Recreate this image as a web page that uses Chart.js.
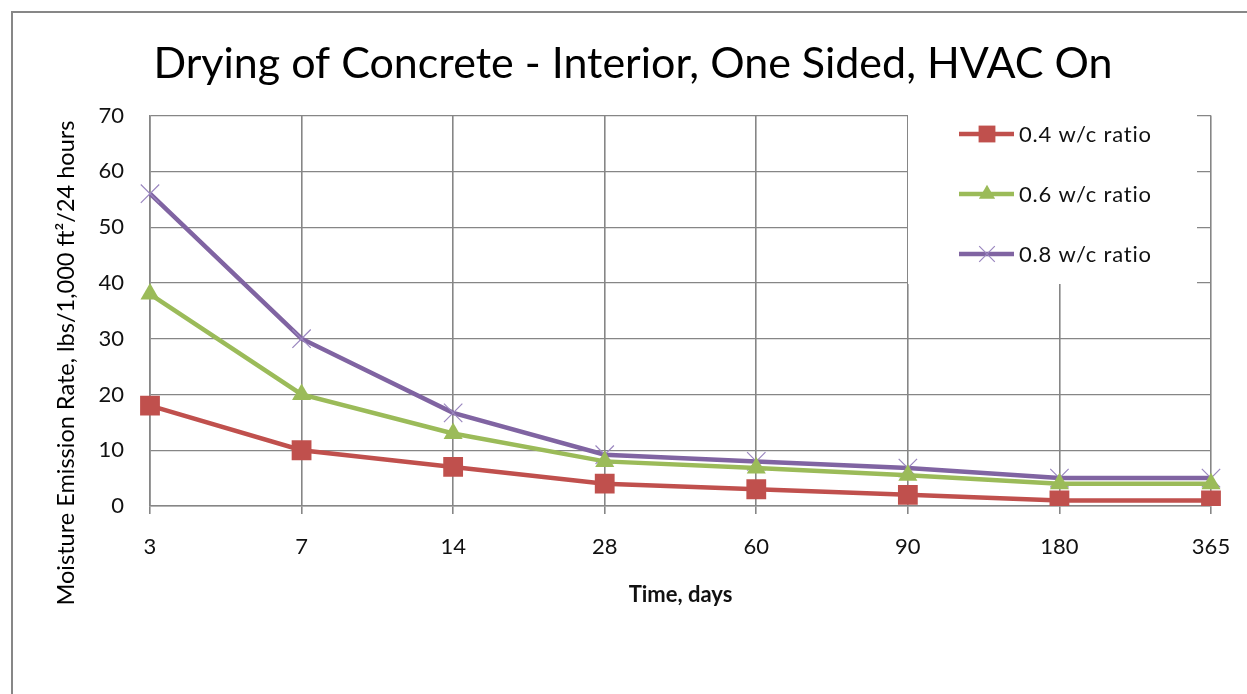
<!DOCTYPE html>
<html>
<head>
<meta charset="utf-8">
<script src="https://cdn.jsdelivr.net/npm/chart.js@4"></script>
<style>
  html, body { margin: 0; padding: 0; background: #fff; overflow: hidden; }
  #wrap { position: absolute; left: 0; top: 0; width: 1254px; height: 694px; }
</style>
</head>
<body>
<div id="wrap"><canvas id="dryChart"></canvas></div>
<script>
// time, days (category axis)
const days = ['3', '7', '14', '28', '60', '90', '180', '365'];

// moisture emission rate, lbs/1,000 ft2/24 hours
const wc04 = [18, 10, 7, 4, 3, 2, 1, 1];
const wc06 = [38, 20, 13, 8, 6.8, 5.5, 4, 4];
const wc08 = [56, 30, 16.7, 9.2, 8, 6.8, 5, 5];

const seriesNames = ['0.4 w/c ratio', '0.6 w/c ratio', '0.8 w/c ratio'];
const yTicks = [0, 10, 20, 30, 40, 50, 60, 70];

const FONT = 'Lato, "Open Sans", sans-serif';
const GRID = '#868686';

// outer frame of the chart object (runs off the right/bottom of the picture)
const framePlugin = {
    id: 'frame',
    beforeDraw(chart) {
        const c = chart.ctx;
        c.save();
        c.fillStyle = '#fff';
        c.fillRect(0, 0, chart.width, chart.height);
        c.strokeStyle = '#878787';
        c.lineWidth = 2;
        c.beginPath();
        c.moveTo(12, chart.height + 5);
        c.lineTo(12, 12);
        c.lineTo(chart.width + 5, 12);
        c.stroke();
        c.restore();
    }
};

// y axis title sits lower than the plot centre in the original
const yTitlePlugin = {
    id: 'yTitle',
    afterDraw(chart) {
        const c = chart.ctx;
        c.save();
        c.translate(66, 363);
        c.rotate(-Math.PI / 2);
        c.fillStyle = '#000';
        c.textAlign = 'center';
        c.textBaseline = 'middle';
        c.font = '23.5px ' + FONT;
        c.fillText('Moisture Emission Rate, lbs/1,000 ft\u00B2/24 hours', 0, 0);
        c.restore();
    }
};

// legend box drawn over the grid, top right of plot
const legendPlugin = {
    id: 'boxLegend',
    beforeDatasetsDraw(chart) {
        const c = chart.ctx;
        const area = chart.chartArea;
        c.save();
        c.fillStyle = '#fff';
        c.fillRect(908, area.top - 1, 289, 285 - area.top);
        chart.data.datasets.forEach((ds, i) => {
            const y = 134 + i * 60;
            c.strokeStyle = ds.borderColor;
            c.lineWidth = ds.borderWidth;
            c.beginPath();
            c.moveTo(959, y);
            c.lineTo(1014, y);
            c.stroke();
            c.fillStyle = ds.pointBackgroundColor;
            c.strokeStyle = ds.pointBorderColor;
            c.lineWidth = ds.pointBorderWidth;
            Chart.helpers.drawPoint(c, {
                pointStyle: ds.pointStyle,
                radius: ds.pointRadius * 0.85,
                borderWidth: ds.pointBorderWidth,
                rotation: 0
            }, 987, y);
            c.fillStyle = '#111';
            c.font = '22px ' + FONT;
            c.letterSpacing = '0.8px';
            c.textAlign = 'left';
            c.textBaseline = 'middle';
            c.fillText(ds.label, 1019, y + 1);
            c.letterSpacing = '0px';
        });
        c.restore();
    }
};

const ctx = document.getElementById('dryChart').getContext('2d');

const dryChart = new Chart(ctx, {
    type: 'line',
    data: {
        labels: days,
        datasets: [{
            label: seriesNames[0],
            data: wc04,
            borderColor: '#C0504D',
            borderWidth: 4.5,
            pointStyle: 'rect',
            pointRadius: 14,
            pointBackgroundColor: '#C0504D',
            pointBorderColor: '#C0504D',
            pointBorderWidth: 0
        }, {
            label: seriesNames[1],
            data: wc06,
            borderColor: '#9BBB59',
            borderWidth: 4.5,
            pointStyle: 'triangle',
            pointRadius: 11,
            pointBackgroundColor: '#9BBB59',
            pointBorderColor: '#9BBB59',
            pointBorderWidth: 0
        }, {
            label: seriesNames[2],
            data: wc08,
            borderColor: '#8064A2',
            borderWidth: 4.5,
            pointStyle: 'crossRot',
            pointRadius: 13,
            pointBackgroundColor: '#8064A2',
            pointBorderColor: '#9a86bf',
            pointBorderWidth: 1.2
        }]
    },
    options: {
        responsive: true,
        maintainAspectRatio: false,
        animation: false,
        devicePixelRatio: 1,
        layout: { padding: { left: 12, top: 12, right: 0, bottom: 0 } },
        elements: { line: { tension: 0 } },
        plugins: {
            legend: { display: false },
            tooltip: { enabled: false },
            title: {
                display: true,
                text: 'Drying of Concrete - Interior, One Sided, HVAC On',
                color: '#000',
                font: { family: FONT, size: 43, weight: 'normal', lineHeight: 1.2 },
                padding: { top: 26, bottom: 26 }
            }
        },
        scales: {
            x: {
                offset: false,
                grid: { color: GRID, lineWidth: 1.6, drawTicks: true, tickLength: 8, tickColor: GRID },
                border: { color: GRID, width: 1.6 },
                ticks: { color: '#111', font: { family: FONT, size: 22 }, padding: 20, maxRotation: 0 },
                title: {
                    display: true,
                    text: 'Time, days',
                    color: '#111',
                    font: { family: FONT, size: 22, weight: 'bold' },
                    padding: { top: 0, bottom: 86 }
                },
                afterFit(scale) { scale.height = 188; }
            },
            y: {
                min: 0,
                max: 70,
                afterBuildTicks(scale) { scale.ticks = yTicks.map(v => ({ value: v })); },
                grid: { color: GRID, lineWidth: 1.2, drawTicks: false },
                border: { color: GRID, width: 1.6 },
                ticks: { color: '#111', font: { family: FONT, size: 22 }, padding: 26 },
                afterFit(scale) { scale.width = 138; }
            },
            // empty right strip so the title centres on the whole chart object
            yPad: {
                position: 'right',
                display: true,
                grid: { display: false, drawTicks: false },
                border: { display: false },
                ticks: { display: false },
                afterFit(scale) { scale.width = 43; }
            }
        }
    },
    plugins: [framePlugin, legendPlugin, yTitlePlugin]
});
</script>
</body>
</html>
